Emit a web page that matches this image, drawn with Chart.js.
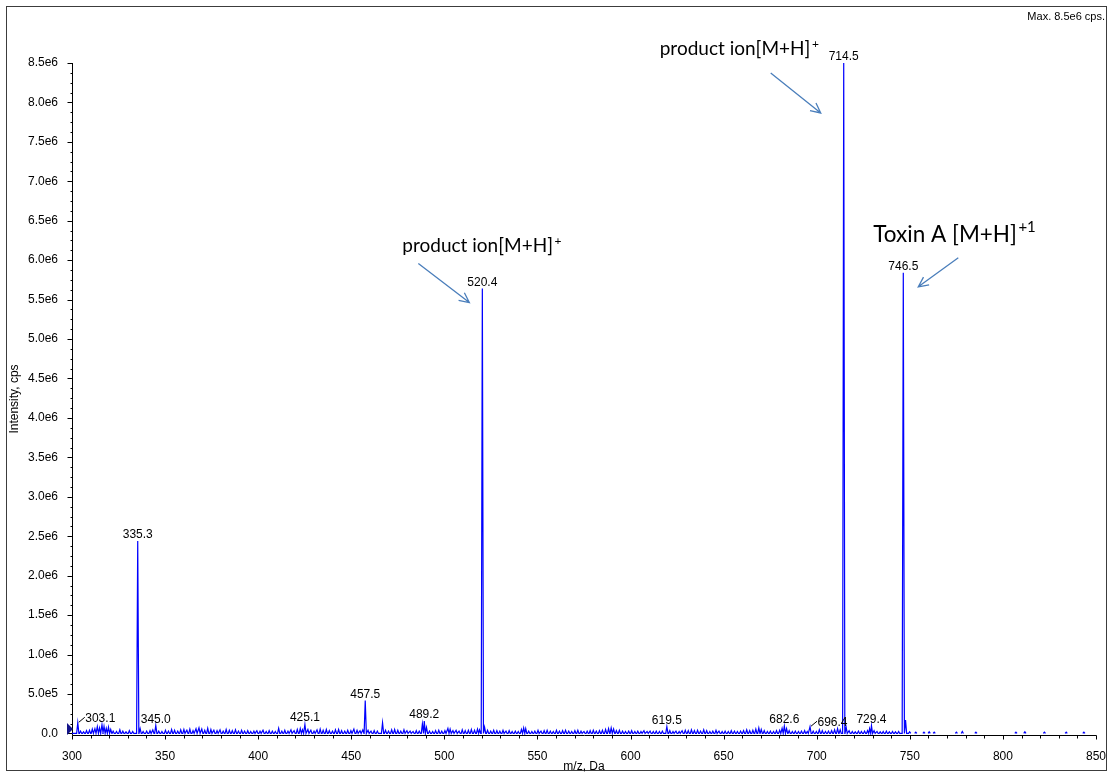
<!DOCTYPE html>
<html>
<head>
<meta charset="utf-8">
<title>Product ion spectrum</title>
<script src="https://cdn.jsdelivr.net/npm/chart.js@4.4.1/dist/chart.umd.min.js"></script>
<style>
  html, body { margin: 0; padding: 0; background: #ffffff; }
  #wrap { width: 1112px; height: 774px; }
</style>
</head>
<body>
<div id="wrap"><canvas id="spectrum" width="1112" height="774"></canvas></div>
<script>
// ---- Labelled peaks (m/z, intensity in cps) ----
const labeledMz  = [303.1, 335.3, 345.0, 425.1, 457.5, 489.2, 520.4, 619.5, 682.6, 696.4, 714.5, 729.4, 746.5];
const labeledInt = [135000, 2440000, 100000, 114000, 417000, 156000, 5640000, 85000, 92000, 85000, 8500000, 97000, 5840000];

// ---- Unlabelled low-level signals (m/z, intensity in cps) ----
const noiseMz = [
  304.6, 306.2, 307.8, 309.4, 310.9, 312.3, 313.6, 314.8, 316.1, 317.2, 318.4, 319.6, 320.8, 322.1, 323.9, 325.7,
  327.3, 329.0, 330.8, 332.6, 336.6, 338.2, 340.1, 341.9, 343.4, 346.6, 348.3, 350.2, 351.8, 353.5, 355.1, 356.8,
  358.4, 360.1, 361.7, 363.3, 365.0, 366.6, 368.2, 369.7, 371.3, 372.9, 374.6, 376.2, 377.9, 379.5, 381.2, 382.8,
  384.5, 386.1, 387.8, 389.4, 391.1, 392.7, 394.4, 396.0, 397.7, 399.3, 401.0, 402.6, 404.3, 405.9, 407.6, 409.2,
  411.0, 412.7, 414.3, 416.0, 417.6, 419.3, 421.0, 422.6, 423.8, 426.7, 428.3, 430.0, 431.6, 433.3, 434.9, 436.6,
  438.2, 439.9, 441.5, 443.2, 444.8, 446.5, 448.1, 449.8, 451.4, 453.1, 454.7, 456.2, 459.0, 460.6, 462.3, 464.0,
  466.8, 468.4, 470.0, 471.7, 473.3, 475.0, 476.6, 478.3, 479.9, 481.6, 483.2, 484.9, 486.5, 488.2, 490.4, 492.0,
  493.7, 495.3, 497.0, 498.6, 500.3, 501.9, 503.1, 504.6, 506.3, 507.9, 509.6, 511.2, 512.9, 514.5, 516.2, 517.8,
  518.9, 521.6, 523.2, 524.9, 526.5, 528.2, 529.8, 531.5, 533.1, 534.8, 536.4, 538.1, 539.7, 541.4, 542.6, 543.7,
  545.3, 547.0, 548.6, 550.3, 551.9, 553.6, 555.2, 556.9, 558.5, 560.2, 561.8, 563.5, 565.1, 566.8, 568.4, 570.1,
  571.7, 573.4, 575.0, 576.7, 578.3, 580.0, 581.6, 583.3, 584.9, 586.6, 588.2, 589.6, 590.9, 592.4, 594.0, 595.7,
  597.3, 599.0, 600.6, 602.3, 603.9, 605.6, 607.2, 608.9, 610.5, 612.2, 613.8, 615.5, 617.1, 621.1, 622.8, 624.4,
  626.1, 627.7, 629.4, 631.0, 632.7, 634.3, 636.0, 637.6, 639.3, 640.9, 642.6, 644.2, 645.9, 647.5, 649.2, 650.8,
  652.5, 654.1, 655.8, 657.4, 659.1, 660.7, 662.4, 664.0, 665.7, 667.3, 668.9, 670.2, 671.8, 673.5, 675.1, 676.8,
  678.4, 680.1, 681.4, 683.8, 685.2, 686.9, 688.5, 690.2, 691.8, 693.5, 694.9, 698.1, 699.8, 701.4, 703.0, 704.7,
  706.3, 708.0, 709.6, 711.2, 712.6, 715.8, 717.4, 719.1, 720.7, 722.4, 724.0, 725.7, 727.3, 728.4, 730.8, 732.4,
  734.1, 735.7, 737.4, 739.0, 740.7, 742.3, 744.0, 747.7, 749.9, 753.2, 757.6, 760.4, 763.1, 775.0, 778.2, 785.5,
  807.0, 811.8, 822.3, 834.0, 843.5
];
const noiseInt = [
  30000, 20000, 35000, 40000, 55000, 60000, 85000, 70000, 110000, 90000, 65000, 80000, 50000, 30000, 25000, 45000,
  30000, 20000, 35000, 25000, 60000, 25000, 30000, 35000, 45000, 30000, 25000, 40000, 30000, 50000, 40000, 30000,
  45000, 50000, 40000, 55000, 35000, 60000, 70000, 55000, 40000, 65000, 50000, 40000, 35000, 45000, 30000, 50000,
  40000, 35000, 45000, 30000, 40000, 30000, 35000, 25000, 30000, 35000, 30000, 40000, 25000, 35000, 30000, 25000,
  65000, 30000, 40000, 30000, 45000, 35000, 50000, 60000, 45000, 50000, 40000, 30000, 45000, 55000, 40000, 50000,
  35000, 30000, 45000, 50000, 35000, 30000, 40000, 35000, 55000, 40000, 35000, 45000, 40000, 30000, 35000, 30000,
  135000, 40000, 30000, 45000, 50000, 40000, 30000, 45000, 35000, 30000, 25000, 35000, 30000, 120000, 75000, 30000,
  25000, 35000, 40000, 30000, 35000, 65000, 55000, 35000, 40000, 30000, 45000, 35000, 40000, 50000, 40000, 55000,
  45000, 80000, 40000, 30000, 40000, 35000, 30000, 40000, 30000, 35000, 25000, 30000, 25000, 50000, 70000, 60000,
  30000, 25000, 30000, 40000, 30000, 35000, 40000, 30000, 25000, 40000, 30000, 35000, 40000, 30000, 25000, 35000,
  40000, 30000, 25000, 30000, 35000, 40000, 30000, 35000, 40000, 50000, 60000, 70000, 55000, 35000, 40000, 30000,
  25000, 30000, 35000, 25000, 30000, 25000, 35000, 25000, 30000, 25000, 30000, 25000, 30000, 35000, 25000, 30000,
  25000, 35000, 40000, 35000, 45000, 35000, 40000, 30000, 45000, 35000, 25000, 30000, 40000, 30000, 25000, 30000,
  25000, 35000, 30000, 25000, 30000, 35000, 45000, 35000, 40000, 55000, 70000, 50000, 35000, 25000, 30000, 25000,
  35000, 40000, 65000, 60000, 35000, 25000, 30000, 25000, 30000, 35000, 25000, 30000, 25000, 45000, 35000, 25000,
  30000, 35000, 45000, 60000, 45000, 80000, 35000, 25000, 20000, 30000, 25000, 30000, 35000, 60000, 35000, 25000,
  20000, 25000, 30000, 20000, 25000, 20000, 25000, 170000, 20000, 15000, 15000, 20000, 15000, 15000, 25000, 15000,
  15000, 20000, 15000, 15000, 15000
];

// ---- Axis ticks ----
const xTickValues = [300, 350, 400, 450, 500, 550, 600, 650, 700, 750, 800, 850];
const yTickValues = [0, 500000, 1000000, 1500000, 2000000, 2500000, 3000000, 3500000, 4000000,
                     4500000, 5000000, 5500000, 6000000, 6500000, 7000000, 7500000, 8000000, 8500000];

// ---- Drawing parameters ----
const PEAK_HALF_WIDTH = 0.6;      // Da, half base width of each profile peak
const BASELINE_END = 750.5;       // continuous baseline trace ends here
const SPECTRUM_BLUE = '#0000ff';
const ARROW_BLUE = '#4a7ebb';
const TICK_FONT = "'Liberation Sans', Arial, sans-serif";
const CALLOUT_FONT = "Lato, 'Open Sans', sans-serif";

function sci(v) {
  if (v === 0) return '0.0';
  const e = Math.floor(Math.log10(v) + 1e-9);
  return (v / Math.pow(10, e)).toFixed(1) + 'e' + e;
}

// Build the profile trace: each peak is a narrow triangle on the baseline.
const peaks = labeledMz.map((m, i) => ({ mz: m, h: labeledInt[i] }))
  .concat(noiseMz.map((m, i) => ({ mz: m, h: noiseInt[i] })))
  .sort((a, b) => a.mz - b.mz);

const trace = [{ x: xTickValues[0], y: 0 }];
peaks.forEach(p => {
  trace.push({ x: p.mz - PEAK_HALF_WIDTH, y: 0 });
  trace.push({ x: p.mz, y: p.h });
  trace.push({ x: p.mz + PEAK_HALF_WIDTH, y: 0 });
  if (p.mz > BASELINE_END) trace.push({ x: p.mz + PEAK_HALF_WIDTH, y: null });
});
// close the continuous part of the baseline
const cut = trace.findIndex(pt => pt.x > BASELINE_END);
if (cut > 0) trace.splice(cut, 0, { x: BASELINE_END, y: 0 }, { x: BASELINE_END, y: null });

// Peak labels that sit beside their peak on a short leader line
const leaderLabels = { '303.1': true, '696.4': true };

// Callout texts with arrows, placed relative to the peak apex (pixels)
const callouts = [
  { mz: 520.4, text: 'product ion[M+H]', sup: '+', size: 19, supSize: 12, rise: 7,
    tx: -80, ty: -37, tail: [-64, -25], tip: [-13, 14] },
  { mz: 714.5, text: 'product ion[M+H]', sup: '+', size: 19, supSize: 12, rise: 7,
    tx: -184, ty: -8, tail: [-73, 10], tip: [-23, 50] },
  { mz: 746.5, text: 'Toxin A [M+H]', sup: '+1', size: 22.5, supSize: 15, rise: 10,
    tx: -30, ty: -31, tail: [55, -15], tip: [15, 14] }
];

const spectrumDecor = {
  id: 'spectrumDecor',
  beforeDraw(chart) {
    const ctx = chart.ctx;
    ctx.save();
    ctx.fillStyle = '#ffffff';
    ctx.fillRect(0, 0, chart.width, chart.height);
    ctx.strokeStyle = '#3c3c3c';
    ctx.lineWidth = 1;
    ctx.strokeRect(6.5, 6.5, 1100, 764);
    ctx.restore();
  },
  beforeDatasetsDraw(chart) {
    const ctx = chart.ctx;
    const xs = chart.scales.x, ys = chart.scales.y;
    const a = chart.chartArea;
    const y0 = Math.round(a.bottom) + 0.5;
    const x0 = Math.round(a.left) + 0.5;
    ctx.save();
    ctx.strokeStyle = '#000000';
    ctx.lineWidth = 1;
    ctx.beginPath();
    // axis lines
    ctx.moveTo(x0, y0); ctx.lineTo(Math.round(a.right) + 0.5, y0);
    ctx.moveTo(x0, Math.round(ys.getPixelForValue(yTickValues[yTickValues.length - 1]))); ctx.lineTo(x0, y0);
    // x ticks: major every 50, minor every 10
    for (let v = xTickValues[0]; v <= xTickValues[xTickValues.length - 1]; v += 10) {
      const px = Math.round(xs.getPixelForValue(v)) + 0.5;
      const major = xTickValues.includes(v);
      ctx.moveTo(px, y0); ctx.lineTo(px, y0 + (major ? 4 : 3));
    }
    // y ticks: major every 0.5e6, minor every 0.125e6
    const step = yTickValues[1] - yTickValues[0];
    for (let i = 0; i < yTickValues.length; i++) {
      const py = Math.round(ys.getPixelForValue(yTickValues[i])) + 0.5;
      ctx.moveTo(x0 - 5, py); ctx.lineTo(x0, py);
      if (i < yTickValues.length - 1) {
        for (let k = 1; k < 4; k++) {
          const pm = Math.round(ys.getPixelForValue(yTickValues[i] + step * k / 4)) + 0.5;
          ctx.moveTo(x0 - 2, pm); ctx.lineTo(x0, pm);
        }
      }
    }
    ctx.stroke();
    ctx.restore();
  },
  afterDatasetsDraw(chart) {
    const ctx = chart.ctx;
    const xs = chart.scales.x, ys = chart.scales.y;
    const a = chart.chartArea;
    ctx.save();

    // start-of-scan marker on the intensity axis
    ctx.fillStyle = '#14148a';
    ctx.beginPath();
    ctx.moveTo(a.left - 5, a.bottom - 12);
    ctx.lineTo(a.left + 1, a.bottom - 6);
    ctx.lineTo(a.left - 5, a.bottom);
    ctx.closePath();
    ctx.fill();

    // peak m/z labels
    ctx.fillStyle = '#000000';
    ctx.strokeStyle = '#000000';
    ctx.lineWidth = 1;
    ctx.font = '12px ' + TICK_FONT;
    ctx.textBaseline = 'alphabetic';
    labeledMz.forEach((m, i) => {
      const txt = m.toFixed(1);
      const px = xs.getPixelForValue(m);
      const py = ys.getPixelForValue(labeledInt[i]);
      if (leaderLabels[txt]) {
        ctx.beginPath();
        ctx.moveTo(px + 1, py - 0.5);
        ctx.lineTo(px + 7, py - 5.5);
        ctx.stroke();
        ctx.textAlign = 'left';
        ctx.fillText(txt, px + 7.5, py - 1);
      } else {
        ctx.textAlign = 'center';
        ctx.fillText(txt, px, py - 3);
      }
    });

    // callouts with arrows
    callouts.forEach(c => {
      const idx = labeledMz.indexOf(c.mz);
      const px = xs.getPixelForValue(c.mz);
      const py = ys.getPixelForValue(labeledInt[idx]);
      ctx.fillStyle = '#000000';
      ctx.textAlign = 'left';
      ctx.font = c.size + 'px ' + CALLOUT_FONT;
      const tx = px + c.tx, ty = py + c.ty;
      ctx.fillText(c.text, tx, ty);
      const w = ctx.measureText(c.text).width;
      ctx.font = c.supSize + 'px ' + CALLOUT_FONT;
      ctx.fillText(c.sup, tx + w + 1.5, ty - c.rise);

      const x1 = px + c.tail[0], y1 = py + c.tail[1];
      const x2 = px + c.tip[0], y2 = py + c.tip[1];
      ctx.strokeStyle = ARROW_BLUE;
      ctx.lineWidth = 1.3;
      ctx.beginPath();
      ctx.moveTo(x1, y1); ctx.lineTo(x2, y2);
      const ang = Math.atan2(y2 - y1, x2 - x1);
      const len = 11, spread = 0.45;
      ctx.moveTo(x2 - len * Math.cos(ang - spread), y2 - len * Math.sin(ang - spread));
      ctx.lineTo(x2, y2);
      ctx.lineTo(x2 - len * Math.cos(ang + spread), y2 - len * Math.sin(ang + spread));
      ctx.stroke();
    });

    // maximum intensity note
    ctx.fillStyle = '#000000';
    ctx.font = '11px ' + TICK_FONT;
    ctx.textAlign = 'right';
    ctx.fillText('Max. ' + sci(Math.max(...labeledInt)) + ' cps.', 1105, 19.5);
    ctx.restore();
  }
};

Chart.defaults.font.family = TICK_FONT;
Chart.defaults.font.size = 12;
Chart.defaults.color = '#000000';

new Chart(document.getElementById('spectrum'), {
  type: 'line',
  data: {
    datasets: [{
      data: trace,
      parsing: false,
      borderColor: SPECTRUM_BLUE,
      borderWidth: 1.2,
      pointRadius: 0,
      tension: 0,
      fill: false,
      spanGaps: false
    }]
  },
  options: {
    responsive: false,
    devicePixelRatio: 1,
    animation: false,
    events: [],
    layout: { padding: { top: 63, right: 16, left: 0, bottom: 0 } },
    plugins: { legend: { display: false }, tooltip: { enabled: false }, title: { display: false } },
    scales: {
      x: {
        type: 'linear',
        min: xTickValues[0],
        max: xTickValues[xTickValues.length - 1],
        afterBuildTicks: s => { s.ticks = xTickValues.map(v => ({ value: v })); },
        afterFit: s => { s.height = 39; },
        grid: { display: false },
        border: { display: false },
        ticks: { padding: 6, maxRotation: 0, autoSkip: false, callback: v => String(v) },
        title: { display: true, text: 'm/z, Da', padding: { top: 0, bottom: 0 }, font: { size: 12 } }
      },
      y: {
        type: 'linear',
        min: -20000,
        max: yTickValues[yTickValues.length - 1],
        afterBuildTicks: s => { s.ticks = yTickValues.map(v => ({ value: v })); },
        afterFit: s => { s.width = 72; },
        grid: { display: false },
        border: { display: false },
        ticks: { padding: 6, autoSkip: false, callback: v => sci(v) },
        title: { display: true, text: 'Intensity, cps', padding: { top: 7, bottom: 0 }, font: { size: 12 } }
      }
    }
  },
  plugins: [spectrumDecor]
});
</script>
</body>
</html>
